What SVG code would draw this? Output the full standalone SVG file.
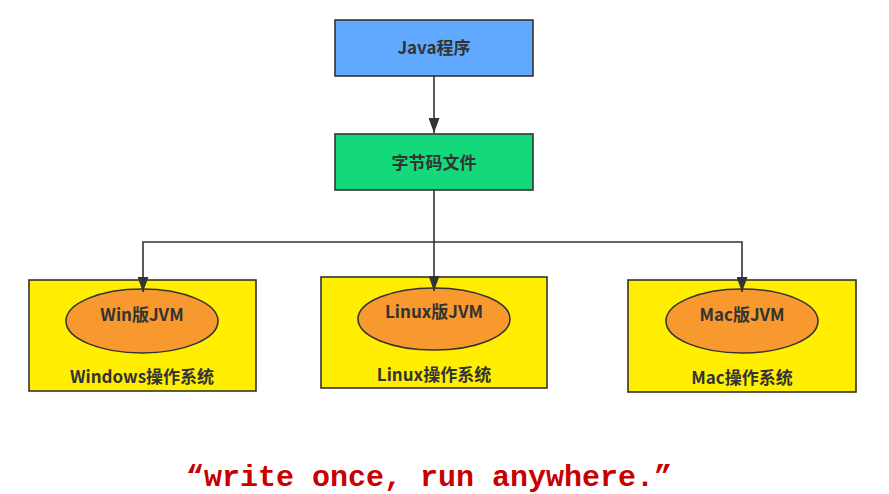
<svg xmlns="http://www.w3.org/2000/svg" width="889" height="494" viewBox="0 0 889 494">
<style>
.box{stroke:#333;stroke-width:1.6}
.ell{fill:#F7992F;stroke:#333;stroke-width:1.6}
.lbl{font-family:"Noto Sans CJK SC","Noto Sans",sans-serif;font-weight:bold;font-size:17px;fill:#333;text-anchor:middle}
.conn{fill:none;stroke:#333;stroke-width:1.6}
.quote{font-family:"Liberation Mono","Courier New",monospace;font-weight:bold;font-size:30px;fill:#C80000;text-anchor:middle}
</style>
<defs>
<marker id="arr" viewBox="0 0 15 11" refX="15" refY="5.5" markerWidth="15" markerHeight="11" markerUnits="userSpaceOnUse" orient="auto">
<path d="M0,0 L15,5.5 L0,11 Z" fill="#333"/>
</marker>
</defs>
<rect width="889" height="494" fill="#fff"/>
<g id="java">
<rect class="box" x="335" y="20" width="198" height="56" fill="#61A9FF"/>
<text class="lbl" x="434" y="54">Java程序</text>
</g>
<g id="bytecode">
<rect class="box" x="335" y="134" width="198" height="56" fill="#14D97A"/>
<text class="lbl" x="434" y="169">字节码文件</text>
</g>
<g id="windows">
<rect class="box" x="29" y="280" width="227" height="111" fill="#FFEE00"/>
<ellipse class="ell" cx="142" cy="321" rx="76" ry="32"/>
<text class="lbl" x="142" y="321">Win版JVM</text>
<text class="lbl" x="142" y="383">Windows操作系统</text>
</g>
<g id="linux">
<rect class="box" x="321" y="277" width="226" height="111" fill="#FFEE00"/>
<ellipse class="ell" cx="434" cy="319" rx="76" ry="31"/>
<text class="lbl" x="434" y="318">Linux版JVM</text>
<text class="lbl" x="434" y="381">Linux操作系统</text>
</g>
<g id="mac">
<rect class="box" x="628" y="280" width="228" height="112" fill="#FFEE00"/>
<ellipse class="ell" cx="742" cy="321" rx="76" ry="32"/>
<text class="lbl" x="742" y="321">Mac版JVM</text>
<text class="lbl" x="742" y="384">Mac操作系统</text>
</g>
<g id="connectors">
<path class="conn" d="M434,76 V133" marker-end="url(#arr)"/>
<path class="conn" d="M434,190 V242 H143 V292" marker-end="url(#arr)"/>
<path class="conn" d="M434,242 V291" marker-end="url(#arr)"/>
<path class="conn" d="M434,242 H742 V292" marker-end="url(#arr)"/>
</g>
<text class="quote" x="429" y="486">“write once, run anywhere.”</text>
</svg>
